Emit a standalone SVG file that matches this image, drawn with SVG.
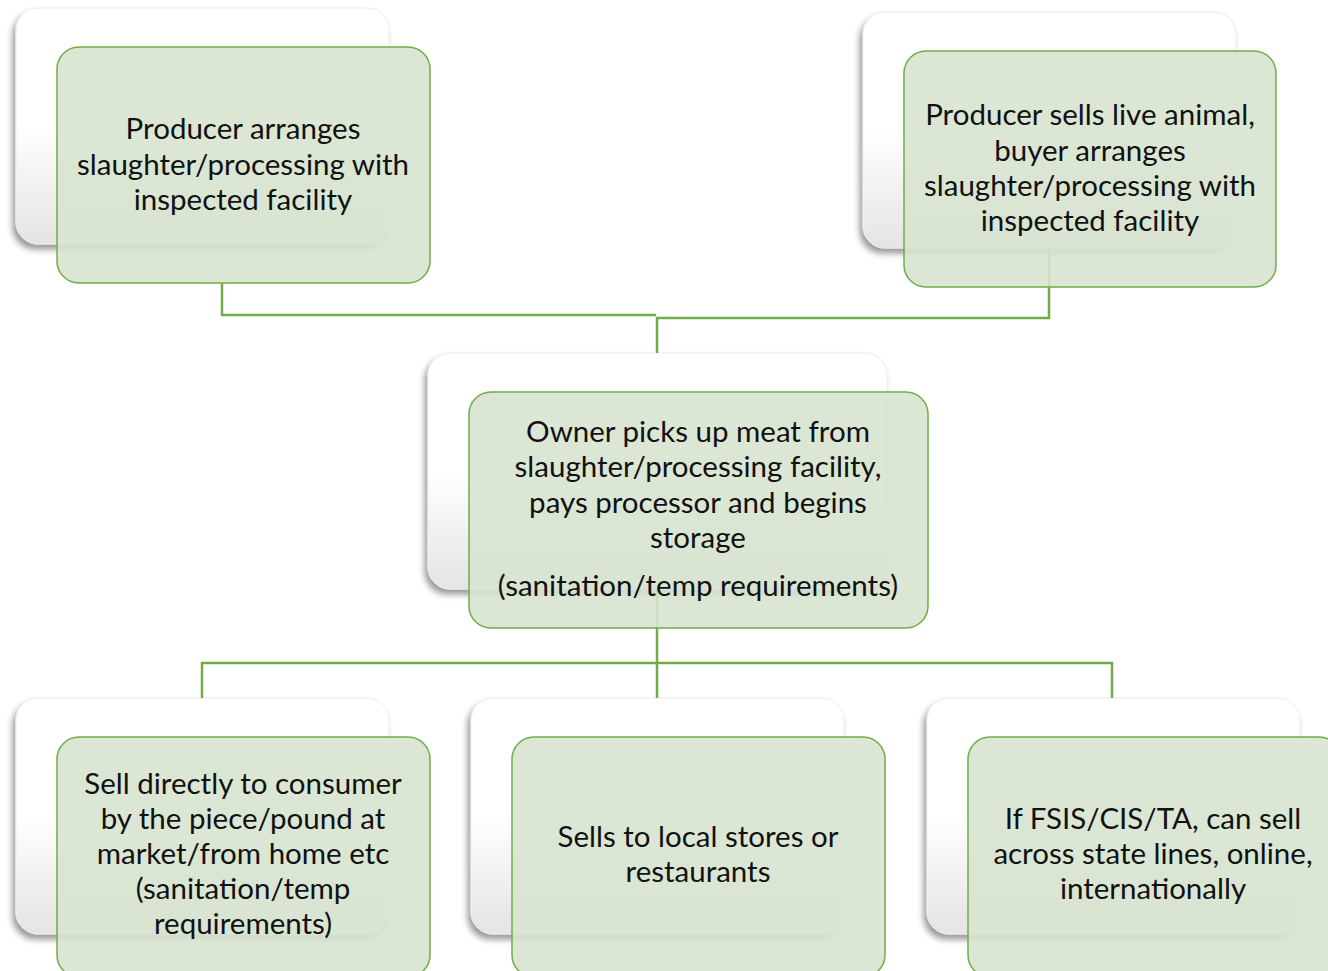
<svg xmlns="http://www.w3.org/2000/svg" width="1328" height="971" viewBox="0 0 1328 971">
<defs>
<linearGradient id="bg" x1="0" y1="0" x2="0" y2="1">
<stop offset="0" stop-color="#ffffff"/>
<stop offset="0.5" stop-color="#ffffff"/>
<stop offset="1" stop-color="#e4e4e4"/>
</linearGradient>
<filter id="sh" x="-15%" y="-15%" width="130%" height="135%">
<feDropShadow dx="-3" dy="5" stdDeviation="3" flood-color="#000" flood-opacity="0.4"/>
</filter>
</defs>
<style>
.back{fill:url(#bg);stroke:#ececec;stroke-width:1;filter:url(#sh);}
.front{fill:#d7e4cf;fill-opacity:0.9;stroke:#70ad47;stroke-width:1.5;}
.t{font-family:Lato,"Open Sans","Liberation Sans",sans-serif;font-size:29.5px;fill:#111;text-anchor:middle;}
.c{fill:none;stroke:#70ad47;stroke-width:2.5;}
</style>
<rect width="1328" height="971" fill="#ffffff"/>
<g id="backs">
<rect class="back" x="16" y="8" width="373" height="236" rx="22"/>
<rect class="back" x="863" y="12" width="373" height="236" rx="22"/>
<rect class="back" x="428" y="353" width="459" height="236" rx="22"/>
<rect class="back" x="16" y="698" width="373" height="236" rx="22"/>
<rect class="back" x="471" y="698" width="373" height="236" rx="22"/>
<rect class="back" x="927" y="698" width="373" height="236" rx="22"/>
</g>
<g id="connectors">
<polyline class="c" points="222,283 222,315 656,315" stroke-width="4" stroke="#6fac46"/>
<polyline class="c" points="1049,248 1049,318 657,318 657,353" stroke="#548a3a"/>
<polyline class="c" points="657,589 657,698"/>
<polyline class="c" points="202,698 202,663 1112,663 1112,698"/>
</g>
<g id="n1">
<rect class="front" x="57" y="47" width="373" height="236" rx="22"/>
<text class="t" x="243" y="139">Producer arranges</text>
<text class="t" x="243" y="175">slaughter/processing with</text>
<text class="t" x="243" y="210">inspected facility</text>
</g>
<g id="n2">
<rect class="front" x="904" y="51" width="372" height="236" rx="22"/>
<text class="t" x="1090" y="125">Producer sells live animal,</text>
<text class="t" x="1090" y="161">buyer arranges</text>
<text class="t" x="1090" y="196">slaughter/processing with</text>
<text class="t" x="1090" y="231">inspected facility</text>
</g>
<g id="n3">
<rect class="front" x="469" y="392" width="459" height="236" rx="22"/>
<text class="t" x="698" y="442">Owner picks up meat from</text>
<text class="t" x="698" y="477">slaughter/processing facility,</text>
<text class="t" x="698" y="513">pays processor and begins</text>
<text class="t" x="698" y="548">storage</text>
<text class="t" x="698" y="596">(sanitation/temp requirements)</text>
</g>
<g id="n4">
<rect class="front" x="57" y="737" width="373" height="240" rx="22"/>
<text class="t" x="243" y="794">Sell directly to consumer</text>
<text class="t" x="243" y="829">by the piece/pound at</text>
<text class="t" x="243" y="864">market/from home etc</text>
<text class="t" x="243" y="899">(sanitation/temp</text>
<text class="t" x="243" y="934">requirements)</text>
</g>
<g id="n5">
<rect class="front" x="512" y="737" width="373" height="240" rx="22"/>
<text class="t" x="698" y="847">Sells to local stores or</text>
<text class="t" x="698" y="882">restaurants</text>
</g>
<g id="n6">
<rect class="front" x="968" y="737" width="373" height="240" rx="22"/>
<text class="t" x="1153" y="829">If FSIS/CIS/TA, can sell</text>
<text class="t" x="1153" y="864">across state lines, online,</text>
<text class="t" x="1153" y="899">internationally</text>
</g>
</svg>
